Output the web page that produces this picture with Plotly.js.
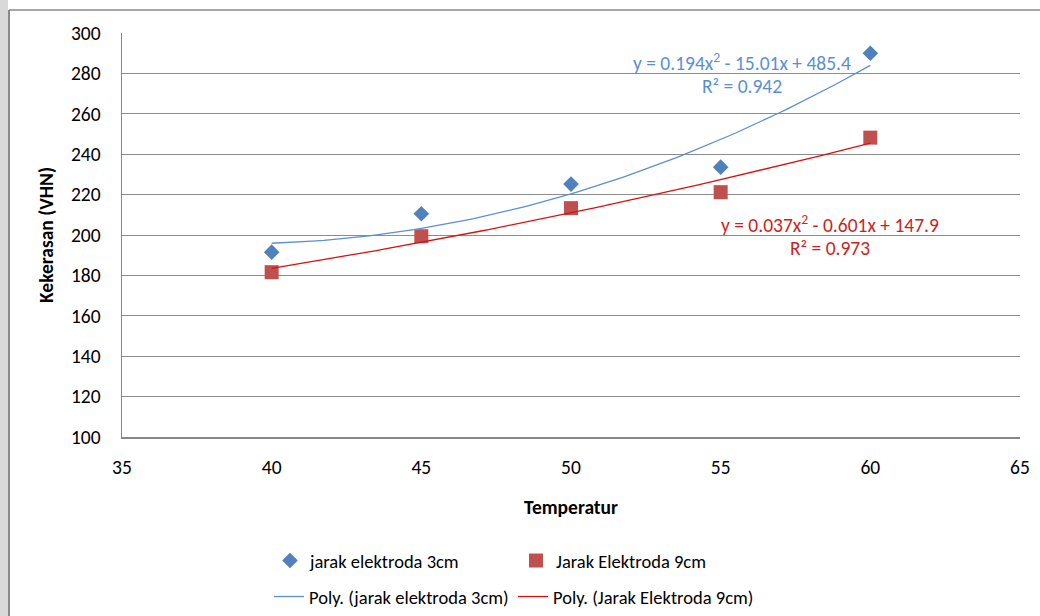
<!DOCTYPE html>
<html>
<head>
<meta charset="utf-8">
<script src="https://cdn.plot.ly/plotly-3.0.1.min.js"></script>
<style>html,body{margin:0;padding:0;background:#fff;overflow:hidden}#chart{width:1040px;height:616px}</style>
</head>
<body>
<div id="chart"></div>
<script>
// ---- data ----
var temperatures = [40, 45, 50, 55, 60];
var hardness3cm = [191.5, 210.5, 225.2, 233.6, 290.0];
var hardness9cm = [181.6, 199.4, 213.3, 221.2, 248.2];
var seriesNames = ['jarak elektroda 3cm', 'Jarak Elektroda 9cm'];
var trendNames = ['Poly. (jarak elektroda 3cm)', 'Poly. (Jarak Elektroda 9cm)'];
var equation3cm = ['y = 0.194x<sup>2</sup> - 15.01x + 485.4', 'R² = 0.942'];
var equation9cm = ['y = 0.037x<sup>2</sup> - 0.601x + 147.9', 'R² = 0.973'];
var xTicks = [35, 40, 45, 50, 55, 60, 65];
var yTicks = [100, 120, 140, 160, 180, 200, 220, 240, 260, 280, 300];

// least squares quadratic fit (trendline, as the spreadsheet computes it)
function polyFit2(xs, ys) {
  var n = xs.length, s = [0,0,0,0,0], t = [0,0,0];
  for (var i = 0; i < n; i++) {
    var p = 1;
    for (var k = 0; k < 5; k++) { s[k] += p; if (k < 3) t[k] += p * ys[i]; p *= xs[i]; }
  }
  var A = [[s[0], s[1], s[2], t[0]], [s[1], s[2], s[3], t[1]], [s[2], s[3], s[4], t[2]]];
  for (var c = 0; c < 3; c++) {
    for (var r = c + 1; r < 3; r++) {
      var f = A[r][c] / A[c][c];
      for (var j = c; j < 4; j++) A[r][j] -= f * A[c][j];
    }
  }
  var coef = [0,0,0];
  for (var r2 = 2; r2 >= 0; r2--) {
    var v = A[r2][3];
    for (var j2 = r2 + 1; j2 < 3; j2++) v -= A[r2][j2] * coef[j2];
    coef[r2] = v / A[r2][r2];
  }
  return coef; // c0 + c1 x + c2 x^2
}
function trendXY(xs, ys) {
  var c = polyFit2(xs, ys), X = [], Y = [];
  var x0 = Math.min.apply(null, xs), x1 = Math.max.apply(null, xs);
  for (var i = 0; i <= 80; i++) {
    var x = x0 + (x1 - x0) * i / 80;
    X.push(x); Y.push(c[0] + c[1] * x + c[2] * x * x);
  }
  return {x: X, y: Y};
}
var tr3 = trendXY(temperatures, hardness3cm);
var tr9 = trendXY(temperatures, hardness9cm);

var FONT = 'Carlito, Calibri, Lato, "Open Sans", sans-serif';
var blue = '#4F81BD', red = '#C0504D';
var blueLine = '#5B8FD2', redLine = '#D81212';
var blueText = '#5A8FD6', redText = '#CC1F24';

var traces = [
  {x: temperatures, y: hardness3cm, name: seriesNames[0], mode: 'markers', type: 'scatter',
   marker: {symbol: 'diamond', size: 12, color: blue}, legend: 'legend'},
  {x: temperatures, y: hardness9cm, name: seriesNames[1], mode: 'markers', type: 'scatter',
   marker: {symbol: 'square', size: 14, color: red}, legend: 'legend'},
  {x: tr3.x, y: tr3.y, name: trendNames[0], mode: 'lines', type: 'scatter',
   line: {color: blueLine, width: 1.3}, legend: 'legend2'},
  {x: tr9.x, y: tr9.y, name: trendNames[1], mode: 'lines', type: 'scatter',
   line: {color: redLine, width: 1.3}, legend: 'legend2'}
];

function px2x(px) { return (px - 122) / 898; }
function px2y(py) { return (437 - py) / 404; }
function cy(py) { return 1 - py / 616; }
function cx(px) { return px / 1040; }

var layout = {
  width: 1040, height: 616,
  margin: {l: 122, r: 20, t: 33, b: 179},
  paper_bgcolor: '#ffffff', plot_bgcolor: '#ffffff',
  font: {family: FONT, size: 19, color: '#000'},
  showlegend: true,
  xaxis: {
    range: [35, 65], tickvals: xTicks, ticktext: xTicks.map(String),
    showgrid: false, zeroline: false, showline: true, linecolor: '#868686', linewidth: 1.5,
    ticks: '', ticklabelstandoff: 12, tickfont: {size: 19.5, family: FONT},
    title: {text: '<b>Temperatur</b>', font: {size: 19.5, family: FONT}, standoff: 22}
  },
  yaxis: {
    range: [100, 300], tickvals: yTicks, ticktext: yTicks.map(String),
    showgrid: true, gridcolor: '#8c8c8c', gridwidth: 1, zeroline: false,
    showline: true, linecolor: '#868686', linewidth: 1.5,
    ticks: '', ticklabelstandoff: 16, tickfont: {size: 19.5, family: FONT},
    title: {text: '<b>Kekerasan (VHN)</b>', font: {size: 19.5, family: FONT}, standoff: 12}
  },
  legend: {orientation: 'h', x: cx(270), y: cy(561), xanchor: 'left', yanchor: 'middle',
           xref: 'container', yref: 'container', entrywidth: 201, entrywidthmode: 'pixels',
           font: {size: 18.5, family: FONT}, bgcolor: 'rgba(0,0,0,0)', itemwidth: 30},
  legend2: {orientation: 'h', x: cx(269), y: cy(597), xanchor: 'left', yanchor: 'middle',
           xref: 'container', yref: 'container', entrywidth: 199, entrywidthmode: 'pixels',
           font: {size: 18.5, family: FONT}, bgcolor: 'rgba(0,0,0,0)', itemwidth: 30},
  annotations: [
    {xref: 'paper', yref: 'paper', x: px2x(742), y: px2y(62), text: equation3cm[0], showarrow: false,
     font: {size: 19.5, color: blueText, family: FONT}, xanchor: 'center', yanchor: 'middle'},
    {xref: 'paper', yref: 'paper', x: px2x(742), y: px2y(86), text: equation3cm[1], showarrow: false,
     font: {size: 19.5, color: blueText, family: FONT}, xanchor: 'center', yanchor: 'middle'},
    {xref: 'paper', yref: 'paper', x: px2x(830), y: px2y(224), text: equation9cm[0], showarrow: false,
     font: {size: 19.5, color: redText, family: FONT}, xanchor: 'center', yanchor: 'middle'},
    {xref: 'paper', yref: 'paper', x: px2x(830), y: px2y(248), text: equation9cm[1], showarrow: false,
     font: {size: 19.5, color: redText, family: FONT}, xanchor: 'center', yanchor: 'middle'}
  ],
  shapes: [
    {type: 'rect', xref: 'paper', yref: 'paper', x0: px2x(0), x1: px2x(8), y0: px2y(616), y1: px2y(0),
     fillcolor: '#d9d9d9', line: {width: 0}, layer: 'below'},
    {type: 'line', xref: 'paper', yref: 'paper', x0: px2x(9), x1: px2x(9), y0: px2y(616), y1: px2y(10),
     line: {color: '#8a8a8a', width: 2}},
    {type: 'line', xref: 'paper', yref: 'paper', x0: px2x(9), x1: px2x(1040), y0: px2y(10), y1: px2y(10),
     line: {color: '#8a8a8a', width: 1.5}}
  ]
};

Plotly.newPlot('chart', traces, layout, {displayModeBar: false, staticPlot: true});
</script>
</body>
</html>
